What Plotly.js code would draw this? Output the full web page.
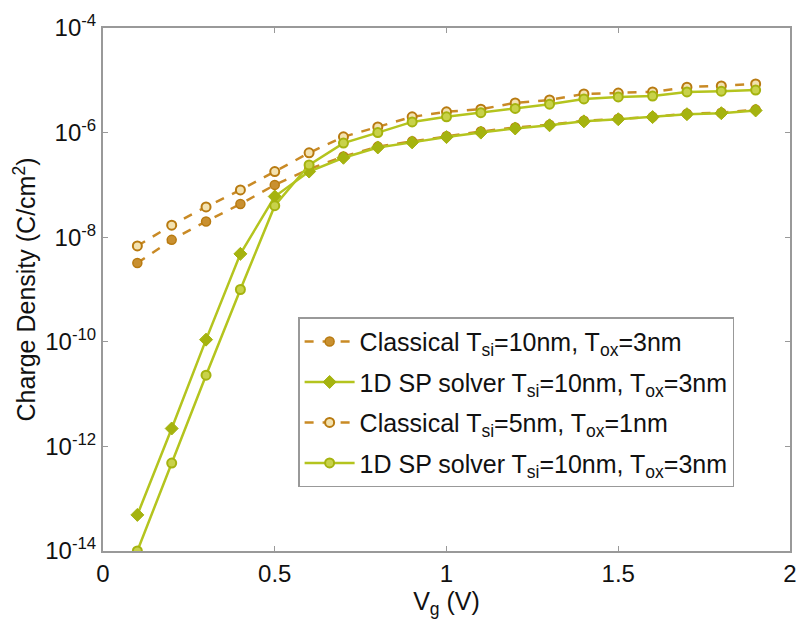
<!DOCTYPE html>
<html>
<head>
<meta charset="utf-8">
<script src="https://cdn.plot.ly/plotly-3.0.1.min.js"></script>
<style>html,body{margin:0;padding:0;background:#fff;}#chart{width:796px;height:626px;}</style>
</head>
<body>
<div id="chart"></div>
<script>
const vg = [0.1,0.2,0.3,0.4,0.5,0.6,0.7,0.8,0.9,1.0,1.1,1.2,1.3,1.4,1.5,1.6,1.7,1.8,1.9];
const classical10 = [3.2e-9,8.9e-9,2.0e-8,4.3e-8,1.0e-7,2.0e-7,3.5e-7,5.4e-7,6.8e-7,8.5e-7,1.05e-6,1.25e-6,1.42e-6,1.68e-6,1.85e-6,2.0e-6,2.3e-6,2.4e-6,2.75e-6];
const sp10a = [4.9e-14,2.2e-12,1.1e-10,4.8e-9,6.0e-8,1.8e-7,3.3e-7,5.2e-7,6.5e-7,8.2e-7,1.0e-6,1.2e-6,1.38e-6,1.64e-6,1.8e-6,1.98e-6,2.25e-6,2.35e-6,2.65e-6];
const classical5 = [6.8e-9,1.7e-8,3.8e-8,8.0e-8,1.8e-7,4.1e-7,8.3e-7,1.28e-6,2.0e-6,2.5e-6,2.8e-6,3.7e-6,4.2e-6,5.5e-6,5.7e-6,6.0e-6,7.4e-6,7.8e-6,8.5e-6];
const sp10b = [1.0e-14,4.8e-13,2.3e-11,1.0e-9,4.0e-8,2.4e-7,6.3e-7,1.0e-6,1.6e-6,2.0e-6,2.4e-6,2.9e-6,3.5e-6,4.4e-6,4.8e-6,5.0e-6,6.0e-6,6.2e-6,6.5e-6];
const names = [
  "Classical T<sub>si</sub>=10nm, T<sub>ox</sub>=3nm",
  "1D SP solver T<sub>si</sub>=10nm, T<sub>ox</sub>=3nm",
  "Classical T<sub>si</sub>=5nm, T<sub>ox</sub>=1nm",
  "1D SP solver T<sub>si</sub>=10nm, T<sub>ox</sub>=3nm"
];
const yTickVals = [1e-14,1e-12,1e-10,1e-8,1e-6,1e-4];
const yTickText = ["10<sup>-14</sup>","10<sup>-12</sup>","10<sup>-10</sup>","10<sup>-8</sup>","10<sup>-6</sup>","10<sup>-4</sup>"];
const xTickVals = [0,0.5,1,1.5,2];
const xTickText = ["0","0.5","1","1.5","2"];

const orange = "#c98a25", orangeMk = "#b87a10";
const green = "#b4c41e", greenMk = "#a5b30f";

const traces = [
  {x: vg, y: classical10, name: names[0], legendgroup: "g1", mode: "lines+markers",
   line: {color: orange, width: 2.5, dash: "dash"},
   marker: {symbol: "circle", size: 9, color: "#c99030", line: {color: orangeMk, width: 1.5}}},
  {x: vg, y: sp10a, name: names[1], legendgroup: "g2", mode: "lines+markers",
   line: {color: green, width: 2.5},
   marker: {symbol: "diamond", size: 10, color: greenMk, line: {color: greenMk, width: 1}}},
  {x: vg, y: classical5, name: names[2], legendgroup: "g3", mode: "lines+markers",
   line: {color: orange, width: 2.5, dash: "dash"},
   marker: {symbol: "circle", size: 9, color: "#f3e2b0", line: {color: orangeMk, width: 2}}},
  {x: vg, y: sp10b, name: names[3], legendgroup: "g4", mode: "lines+markers",
   line: {color: green, width: 2.5},
   marker: {symbol: "circle", size: 9, color: "#c8d24a", line: {color: greenMk, width: 2}}}
];

const layout = {
  width: 796, height: 626,
  margin: {l: 103, r: 6, t: 28, b: 75},
  paper_bgcolor: "#fff", plot_bgcolor: "#fff",
  font: {family: "Liberation Sans, Arial, sans-serif", color: "#111", size: 18},
  showlegend: true,
  legend: {x: 0.284, y: 0.447, xanchor: "left", yanchor: "top",
           bgcolor: "#fff", bordercolor: "#999", borderwidth: 1.5,
           font: {size: 25, color: "#111"}, tracegroupgap: 5,
           itemwidth: 50},
  xaxis: {range: [0, 2], tickvals: xTickVals, ticktext: xTickText,
          showgrid: false, zeroline: false, showline: true, linecolor: "#999", linewidth: 2,
          mirror: "ticks", ticks: "inside", ticklen: 5, tickcolor: "#999",
          tickfont: {size: 24}, ticklabeloverflow: "allow",
          title: {text: "V<sub>g</sub> (V)", font: {size: 25}, standoff: 0}},
  yaxis: {type: "log", range: [-14, -4], tickvals: yTickVals, ticktext: yTickText,
          showgrid: false, zeroline: false, showline: true, linecolor: "#999", linewidth: 2,
          mirror: "ticks", ticks: "inside", ticklen: 5, tickcolor: "#999",
          tickfont: {size: 24}, ticklabeloverflow: "allow",
          title: {text: "Charge Density (C/cm<sup>2</sup>)", font: {size: 25}, standoff: 2}}
};

Plotly.newPlot("chart", traces, layout, {displayModeBar: false, staticPlot: true});
</script>
</body>
</html>
